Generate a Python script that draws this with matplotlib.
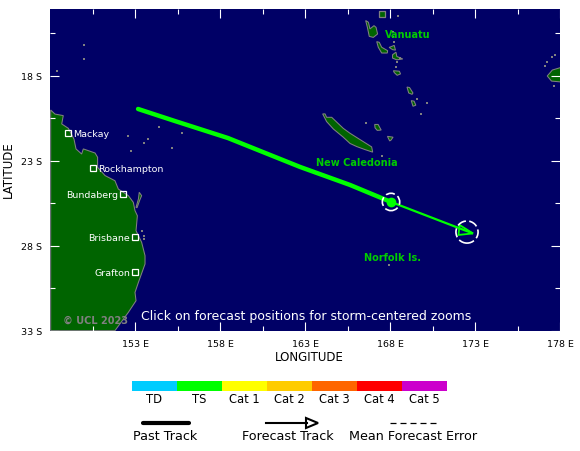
import matplotlib
matplotlib.use('Agg')
import matplotlib.pyplot as plt
from matplotlib.patches import Circle, Polygon

# storm track
past_lon = [153.18, 155.35, 158.47, 162.71, 165.65, 168.06]
past_lat = [-19.94, -20.65, -21.65, -23.35, -24.41, -25.41]
fcst_lon = [168.06, 172.82]
fcst_lat = [-25.41, -27.24]
head_lon = [172.09, 172.88, 172.03]
head_lat = [-26.76, -27.26, -27.35]
error_lon = [168.06, 172.53]
error_lat = [-25.41, -27.18]
error_radius = [0.51, 0.65]

# land
australia_lon = [148.04, 148.29, 148.78, 148.69, 149.08, 149.41, 149.53, 149.86, 149.96, 150.25, 150.65, 150.80,
                 150.80, 151.24, 151.82, 152.02, 152.61, 152.90, 153.0, 153.14, 153.06, 153.39, 153.59, 153.59,
                 153.2, 153.0, 153.06, 152.61, 151.82, 148.04]
australia_lat = [-20.0, -20.24, -20.33, -20.82, -21.08, -21.71, -22.29, -22.59, -22.29, -22.39, -22.53, -22.78,
                 -23.37, -23.86, -24.16, -24.65, -25.04, -25.43, -25.92, -26.22, -27.10, -27.78, -28.57, -29.06,
                 -30.14, -30.73, -31.22, -31.90, -32.98, -32.98]
fraser_lon = [153.06, 153.2, 153.25, 153.39, 153.28, 153.12]
fraser_lat = [-25.73, -25.24, -24.84, -25.04, -25.3, -25.75]
caledonia_lon = [164.04, 164.18, 164.27, 164.57, 165.25, 165.65, 166.14, 166.92, 166.98, 166.53, 166.04, 165.65,
                 165.25, 164.67, 164.27]
caledonia_lat = [-20.23, -20.23, -20.43, -20.43, -21.08, -21.37, -21.68, -22.17, -22.48, -22.33, -22.15, -21.97,
                 -21.6, -21.12, -20.68]
santo_lon = [166.57, 166.73, 166.82, 167.06, 167.18, 167.27, 167.02, 166.78, 166.67]
santo_lat = [-14.74, -14.84, -15.23, -15.04, -15.14, -15.53, -15.73, -15.67, -15.14]
malekula_lon = [167.22, 167.37, 167.51, 167.86, 167.84, 167.51, 167.31]
malekula_lat = [-15.98, -16.02, -16.31, -16.51, -16.65, -16.65, -16.31]
efate_lon = [168.2, 168.55, 168.62, 168.42, 168.25]
efate_lat = [-17.69, -17.72, -17.88, -17.96, -17.8]
ambrym_lon = [167.95, 168.25, 168.32, 168.15]
ambrym_lat = [-16.32, -16.2, -16.48, -16.45]
epi_lon = [168.15, 168.35, 168.4, 168.75, 168.4, 168.15]
epi_lat = [-16.75, -16.6, -16.85, -17.0, -17.05, -16.95]
tanna_lon = [169.0, 169.15, 169.35, 169.3, 169.1]
tanna_lat = [-18.65, -18.68, -19.0, -19.08, -19.0]
aneityum_lon = [169.25, 169.42, 169.52, 169.35]
aneityum_lat = [-19.45, -19.48, -19.72, -19.78]
lifou_lon = [167.1, 167.3, 167.48, 167.25, 167.12]
lifou_lat = [-20.85, -20.85, -21.18, -21.2, -21.05]
mare_lon = [167.85, 168.18, 168.05, 167.98]
mare_lat = [-21.55, -21.6, -21.78, -21.82]
fiji_lon = [178.05, 177.55, 177.25, 177.5, 178.05]
fiji_lat = [-17.5, -17.65, -18.0, -18.3, -18.35]
islands_lon = [australia_lon, fraser_lon, caledonia_lon, santo_lon, malekula_lon, efate_lon, ambrym_lon, epi_lon,
               tanna_lon, aneityum_lon, lifou_lon, mare_lon, fiji_lon]
islands_lat = [australia_lat, fraser_lat, caledonia_lat, santo_lat, malekula_lat, efate_lat, ambrym_lat, epi_lat,
               tanna_lat, aneityum_lat, lifou_lat, mare_lat, fiji_lat]
specks_lon = [150.02, 150.02, 148.43, 154.41, 152.61, 153.78, 153.55, 152.75, 155.2, 155.78, 167.94, 168.16, 168.16,
              168.25, 168.6, 168.4, 168.38, 169.6, 170.18, 169.85, 166.6, 167.51, 153.4, 153.55, 153.5, 167.42,
              168.47, 177.1, 177.25, 177.55, 177.7, 177.65]
specks_lat = [-16.18, -17.02, -17.73, -21.02, -21.53, -21.73, -21.96, -22.43, -22.24, -21.37, -29.1, -15.4, -15.7,
              -16.0, -16.97, -17.2, -17.45, -19.35, -19.6, -20.25, -20.75, -22.68, -27.1, -27.6, -27.4, -14.5,
              -14.45, -17.4, -17.2, -16.9, -16.75, -18.6]
atoll_lon = [167.51]
atoll_lat = [-14.35]

# places
cities = ['Mackay', 'Rockhampton', 'Bundaberg', 'Brisbane', 'Grafton']
city_lon = [149.06, 150.53, 152.29, 153.0, 153.0]
city_lat = [-21.35, -23.41, -24.94, -27.47, -29.53]
city_side = ['right', 'right', 'left', 'left', 'left']
regions = ['Vanuatu', 'New Caledonia', 'Norfolk Is.']
region_lon = [169.06, 166.06, 168.12]
region_lat = [-15.53, -23.06, -28.65]

# axis ticks
lon_ticks = [153, 158, 163, 168, 173, 178]
lat_ticks = [-18, -23, -28, -33]
lon_minor = [150.5, 155.5, 160.5, 165.5, 170.5, 175.5]
lat_minor = [-15.5, -20.5, -25.5, -30.5]

# intensity scale
categories = ['TD', 'TS', 'Cat 1', 'Cat 2', 'Cat 3', 'Cat 4', 'Cat 5']
cat_colors = ['#00ccff', '#00ff00', '#ffff00', '#ffcc00', '#ff6600', '#ff0000', '#cc00cc']

NAVY = '#000066'
LAND = '#006400'
COAST = '#808080'
GREEN = '#00ff00'

fig = plt.figure(figsize=(5.8, 4.52), dpi=100)
ax = fig.add_axes([50 / 580, 120 / 452, 510 / 580, 322 / 452], facecolor=NAVY)
ax.set_xlim(148, 178)
ax.set_ylim(-33, -14.06)

for lons, lats in zip(islands_lon, islands_lat):
    ax.add_patch(Polygon(list(zip(lons, lats)), closed=True, facecolor=LAND, edgecolor=COAST, lw=0.75))
ax.scatter(specks_lon, specks_lat, s=0.8, marker='s', color=COAST, linewidths=0)
ax.scatter(atoll_lon, atoll_lat, s=16, marker='s', facecolor=LAND, edgecolor=COAST, linewidths=0.9)

ax.plot(past_lon, past_lat, color=GREEN, lw=3.2, solid_capstyle='round', zorder=4)
ax.plot(fcst_lon, fcst_lat, color=GREEN, lw=1.6, zorder=4)
ax.add_patch(Polygon(list(zip(head_lon, head_lat)), closed=True, facecolor='none', edgecolor=GREEN, lw=1.3, zorder=4))
ax.plot(past_lon[-1], past_lat[-1], 'o', color=GREEN, ms=7, mew=0, zorder=5)
for lon, lat, r in zip(error_lon, error_lat, error_radius):
    ax.add_patch(Circle((lon, lat), r, fill=False, edgecolor='white', lw=1.2, linestyle=(1, (5.5, 2)), zorder=6))

ax.plot(city_lon, city_lat, 's', ms=5, mfc='none', mec='white', mew=0.9, zorder=5)
for name, lon, lat, side in zip(cities, city_lon, city_lat, city_side):
    dx = 3.6 if side == 'right' else -3.6
    ha = 'left' if side == 'right' else 'right'
    ax.annotate(name, (lon, lat), xytext=(dx, -0.5), textcoords='offset points', color='white', fontsize=6.8,
                ha=ha, va='center', zorder=5)
for name, lon, lat in zip(regions, region_lon, region_lat):
    ax.text(lon, lat, name, color='#00cc00', fontsize=7, fontweight='bold', ha='center', va='center')

ax.set_xticks(lon_ticks)
ax.set_xticklabels(['%d E' % x for x in lon_ticks])
ax.set_yticks(lat_ticks)
ax.set_yticklabels(['%d S' % -y for y in lat_ticks])
ax.set_xticks(lon_minor, minor=True)
ax.set_yticks(lat_minor, minor=True)
ax.tick_params(which='major', direction='in', length=6.5, width=0.8, color='white', top=True, right=True,
               labelsize=6.8, pad=5.5, labelcolor='black')
ax.tick_params(which='minor', direction='in', length=3.5, width=0.8, color='white', top=True, right=True)
for spine in ax.spines.values():
    spine.set_visible(False)

# everything below the map is laid out in pixels
leg = fig.add_axes([0, 0, 1, 1], facecolor='none')
leg.set_xlim(0, 580)
leg.set_ylim(452, 0)
leg.axis('off')

ax.text(63, 321, '\u00a9 UCL 2023', transform=leg.transData, color=COAST, fontsize=7, fontweight='bold',
        va='center', ha='left')
ax.text(306, 317, 'Click on forecast positions for storm-centered zooms', transform=leg.transData, color='white',
        fontsize=9, va='center', ha='center')

leg.text(309, 358, 'LONGITUDE', fontsize=8.5, ha='center', va='center')
leg.text(8, 170, 'LATITUDE', fontsize=8.5, rotation=90, ha='center', va='center')

for i, (name, c) in enumerate(zip(categories, cat_colors)):
    leg.bar(132 + 45 * i, 10, width=45, bottom=382, align='edge', color=c, linewidth=0)
    leg.text(154 + 45 * i, 400, name, fontsize=8.3, ha='center', va='center')

leg.plot([143, 189], [424, 424], color='black', lw=3, solid_capstyle='round')
leg.text(165, 437, 'Past Track', fontsize=9.2, ha='center', va='center')

leg.plot([266, 307], [424, 424], color='black', lw=1.5)
leg.add_patch(Polygon([(306, 419), (318, 424), (306, 429)], closed=True, facecolor='none', edgecolor='black', lw=1.5))
leg.text(288, 437, 'Forecast Track', fontsize=9.2, ha='center', va='center')

leg.plot([390, 436], [424, 424], color='black', lw=0.9, linestyle=(0, (4.8, 3.2)))
leg.text(413, 437, 'Mean Forecast Error', fontsize=9.2, ha='center', va='center')

fig.savefig('out.png', dpi=100)
plt.close()
